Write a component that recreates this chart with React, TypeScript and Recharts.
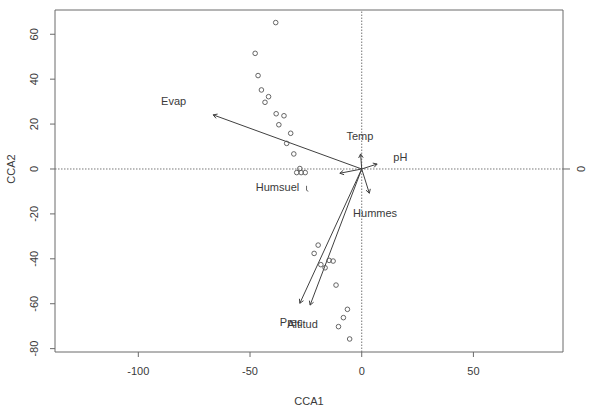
import React from 'react'
import {
  ScatterChart,
  Scatter,
  XAxis,
  YAxis,
  ReferenceLine,
} from 'recharts'

// site scores (CCA1, CCA2)
const sites: [number, number][] = [
  [-38.5, 65.2], [-47.7, 51.5], [-46.4, 41.6], [-44.9, 35.2], [-41.7, 32.2],
  [-43.3, 29.7], [-38.3, 24.6], [-34.8, 23.7], [-37.1, 19.7], [-31.8, 15.9],
  [-33.6, 11.4], [-30.4, 6.7], [-29.1, -1.6], [-27.1, -1.6], [-25.3, -1.6],
  [-27.7, 0.2], [-19.5, -33.9], [-21.3, -37.6], [-18.3, -42.6], [-16.4, -44],
  [-14.6, -40.7], [-12.8, -41], [-11.5, -51.7], [-6.4, -62.5], [-8.2, -66.2],
  [-10.4, -70.2], [-5.4, -75.7],
]

// environmental vectors: tip coordinates
const varNames = ['Evap', 'Temp', 'pH', 'Humsuel', 'Hummes', 'Prec', 'Altitud']
const varTips: [number, number][] = [
  [-66.5, 24.1], [-0.5, 6.7], [6.9, 2.2], [-9.8, -1.9], [3.4, -10.8], [-27.7, -59.8], [-23.1, -60.6],
]
const varLabels: [number, number][] = [
  [-84.2, 30.3], [-0.8, 14.7], [17.3, 5.5], [-37.7, -7.9], [6, -19.5], [-31.6, -68.1], [-26.5, -69.2],
]
const humsuelMark: [number, number][] = [[-24.7, -8.6]]

const xTicks = [-100, -50, 0, 50]
const yTicks = [-80, -60, -40, -20, 0, 20, 40, 60]
const topTicks = [-83.5, 0, 83.5]
const rightTicks = [0]

const xDomain: [number, number] = [-137.3, 90.1]
const yDomain: [number, number] = [-81.5, 70.8]

const FONT = 'Liberation Sans, Arial, sans-serif'
const TEXT = '#3a3a3a'
const AXIS = '#6a6a6a'

const siteData = sites.map(([x, y]) => ({ x, y }))
const labelData = varLabels.map(([x, y], i) => ({ x, y, name: varNames[i] }))
const markData = humsuelMark.map(([x, y]) => ({ x, y }))

const Arrow = (props: any) => {
  const { x1, y1, x2, y2 } = props
  if (x1 == null || x2 == null) return null
  const ang = Math.atan2(y2 - y1, x2 - x1)
  const len = 4.5
  const spread = Math.PI / 6
  const ax = x2 - len * Math.cos(ang - spread)
  const ay = y2 - len * Math.sin(ang - spread)
  const bx = x2 - len * Math.cos(ang + spread)
  const by = y2 - len * Math.sin(ang + spread)
  return (
    <g stroke="#404040" strokeWidth={1} fill="none">
      <line x1={x1} y1={y1} x2={x2} y2={y2} />
      <polyline points={`${ax},${ay} ${x2},${y2} ${bx},${by}`} />
    </g>
  )
}

const LeftTick = (props: any) => {
  const { x, y, payload } = props
  const cx = x - 14
  return (
    <text
      x={cx}
      y={y}
      transform={`rotate(-90 ${cx} ${y})`}
      textAnchor="middle"
      dominantBaseline="central"
      fontSize={11}
      fontFamily={FONT}
      fill={TEXT}
    >
      {payload.value}
    </text>
  )
}

const RightTick = (props: any) => {
  const { x, y, payload } = props
  const cx = x + 9
  return (
    <text
      x={cx}
      y={y}
      transform={`rotate(-90 ${cx} ${y})`}
      textAnchor="middle"
      dominantBaseline="central"
      fontSize={11}
      fontFamily={FONT}
      fill={TEXT}
    >
      {payload.value}
    </text>
  )
}

const BottomTick = (props: any) => {
  const { x, y, payload } = props
  return (
    <text
      x={x}
      y={y + 12}
      textAnchor="middle"
      dominantBaseline="central"
      fontSize={11}
      fontFamily={FONT}
      fill={TEXT}
    >
      {payload.value}
    </text>
  )
}

export default function App() {
  return (
    <div style={{ position: 'absolute', left: 0, top: 0, width: 589, height: 406, background: '#fff' }}>
      <ScatterChart width={589} height={406} margin={{ top: 0, right: 0, bottom: 0, left: 0 }}>
        <XAxis
          xAxisId="b"
          type="number"
          dataKey="x"
          domain={xDomain}
          ticks={xTicks}
          allowDataOverflow
          height={54}
          tickSize={5}
          stroke={AXIS}
          tick={<BottomTick />}
          label={{
            content: (p: any) => {
              const vb = p.viewBox
              return (
                <text
                  x={vb.x + vb.width / 2}
                  y={vb.y + 49}
                  textAnchor="middle"
                  dominantBaseline="central"
                  fontSize={11}
                  fontFamily={FONT}
                  fill={TEXT}
                >
                  CCA1
                </text>
              )
            },
          }}
        />
        <XAxis
          xAxisId="t"
          orientation="top"
          type="number"
          dataKey="x"
          domain={xDomain}
          ticks={topTicks}
          allowDataOverflow
          height={10}
          tickSize={6}
          stroke={AXIS}
          tick={false}
        />
        <YAxis
          yAxisId="l"
          type="number"
          dataKey="y"
          domain={yDomain}
          ticks={yTicks}
          allowDataOverflow
          width={55}
          tickSize={5}
          stroke={AXIS}
          tick={<LeftTick />}
          label={{
            content: (p: any) => {
              const vb = p.viewBox
              const cx = vb.x + 11
              const cy = vb.y + 159
              return (
                <text
                  x={cx}
                  y={cy}
                  transform={`rotate(-90 ${cx} ${cy})`}
                  textAnchor="middle"
                  dominantBaseline="central"
                  fontSize={11}
                  fontFamily={FONT}
                  fill={TEXT}
                >
                  CCA2
                </text>
              )
            },
          }}
        />
        <YAxis
          yAxisId="r"
          orientation="right"
          type="number"
          dataKey="y"
          domain={yDomain}
          ticks={rightTicks}
          allowDataOverflow
          width={26}
          tickSize={7}
          stroke={AXIS}
          tick={<RightTick />}
        />
        <ReferenceLine xAxisId="b" yAxisId="l" x={0} stroke="#777" strokeDasharray="1.5 1.5" />
        <ReferenceLine xAxisId="b" yAxisId="l" y={0} stroke="#777" strokeDasharray="1.5 1.5" />
        {varTips.map(([tx, ty], i) => (
          <ReferenceLine
            key={varNames[i]}
            xAxisId="b"
            yAxisId="l"
            segment={[{ x: 0, y: 0 }, { x: tx, y: ty }]}
            shape={Arrow}
          />
        ))}
        <Scatter
          xAxisId="b"
          yAxisId="l"
          data={siteData}
          isAnimationActive={false}
          shape={(p: any) => (
            <circle cx={p.cx} cy={p.cy} r={2.3} fill="none" stroke="#555" strokeWidth={0.9} />
          )}
        />
        <Scatter
          xAxisId="b"
          yAxisId="l"
          data={markData}
          isAnimationActive={false}
          shape={(p: any) => (
            <path
              d={`M${p.cx},${p.cy - 2.5} L${p.cx},${p.cy + 2} L${p.cx + 1.8},${p.cy + 3}`}
              fill="none"
              stroke="#555"
              strokeWidth={0.9}
            />
          )}
        />
        <Scatter
          xAxisId="b"
          yAxisId="l"
          data={labelData}
          isAnimationActive={false}
          shape={(p: any) => (
            <text
              x={p.cx}
              y={p.cy}
              textAnchor="middle"
              dominantBaseline="central"
              fontSize={11}
              fontFamily={FONT}
              fill={TEXT}
            >
              {p.payload.name}
            </text>
          )}
        />
      </ScatterChart>
    </div>
  )
}
